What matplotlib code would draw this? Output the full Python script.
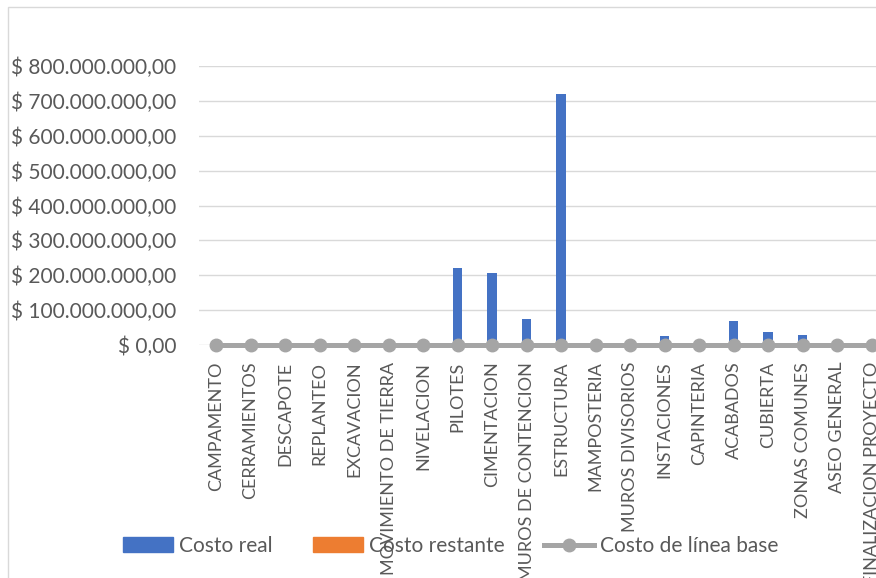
import matplotlib.pyplot as plt
from matplotlib.lines import Line2D
from matplotlib.patches import Patch, Rectangle
from matplotlib.ticker import FuncFormatter, MultipleLocator

plt.rcParams['font.family'] = ['Lato', 'DejaVu Sans']

TEXT_COLOR = "#595959"
GRID_COLOR = "#D9D9D9"

categories = [
    "CAMPAMENTO", "CERRAMIENTOS", "DESCAPOTE", "REPLANTEO", "EXCAVACION",
    "MOVIMIENTO DE TIERRA", "NIVELACION", "PILOTES", "CIMENTACION",
    "MUROS DE CONTENCION", "ESTRUCTURA", "MAMPOSTERIA", "MUROS DIVISORIOS",
    "INSTACIONES", "CAPINTERIA", "ACABADOS", "CUBIERTA", "ZONAS COMUNES",
    "ASEO GENERAL", "FINALIZACION PROYECTO",
]
costo_real = [0, 0, 0, 0, 0, 0, 0, 221e6, 206e6, 74e6, 720e6, 0, 0,
              25e6, 0, 70e6, 37e6, 29e6, 0, 0]
costo_restante = [0] * 20
costo_linea_base = [0] * 20


def money(v, pos):
    s = f"{v:,.2f}".replace(",", "X").replace(".", ",").replace("X", ".")
    return "$ " + s


fig = plt.figure(figsize=(8.76, 5.78), dpi=100)
ax = fig.add_axes([198.8 / 876, 233 / 578, 690 / 876, 279 / 578])

x = range(len(categories))
ax.bar(x, costo_real, width=0.28, color="#4472C4", zorder=2)
ax.bar(x, costo_restante, width=0.28, color="#ED7D31", zorder=2)
ax.plot(x, costo_linea_base, color="#A5A5A5", lw=3.6, marker="o", ms=9,
        zorder=3, clip_on=False)

ax.set_xlim(-0.5, len(categories) - 0.5)
ax.set_ylim(0, 800e6)
ax.yaxis.set_major_locator(MultipleLocator(100e6))
ax.yaxis.set_major_formatter(FuncFormatter(money))
ax.grid(axis="y", color=GRID_COLOR, lw=1, zorder=0)
ax.set_axisbelow(True)
for s in ax.spines.values():
    s.set_visible(False)

ax.set_xticks(list(x))
ax.set_xticklabels(categories, rotation=90, va="top", ha="center")
ax.tick_params(axis="both", length=0, labelcolor=TEXT_COLOR)
ax.tick_params(axis="y", pad=16, labelsize=15)
ax.tick_params(axis="x", pad=12, labelsize=13)

# chart border (cropped)
fig.patches.append(Rectangle((8 / 876, -0.1), 1.2, 0.1 + 1 - 7 / 578,
                             transform=fig.transFigure, fill=False,
                             ec=GRID_COLOR, lw=1, clip_on=False))

handles = [
    Patch(color="#4472C4", label="Costo real"),
    Patch(color="#ED7D31", label="Costo restante"),
    Line2D([0], [0], color="#A5A5A5", lw=3.6, marker="o", ms=9,
           label="Costo de línea base"),
]
fig.legend(handles=handles, loc="center", bbox_to_anchor=(451 / 876, 1 - 546 / 578),
           ncol=3, frameon=False, fontsize=15, labelcolor=TEXT_COLOR,
           handlelength=2.4, handleheight=0.7, handletextpad=0.3,
           columnspacing=1.9)

fig.savefig("out.png", dpi=100)
